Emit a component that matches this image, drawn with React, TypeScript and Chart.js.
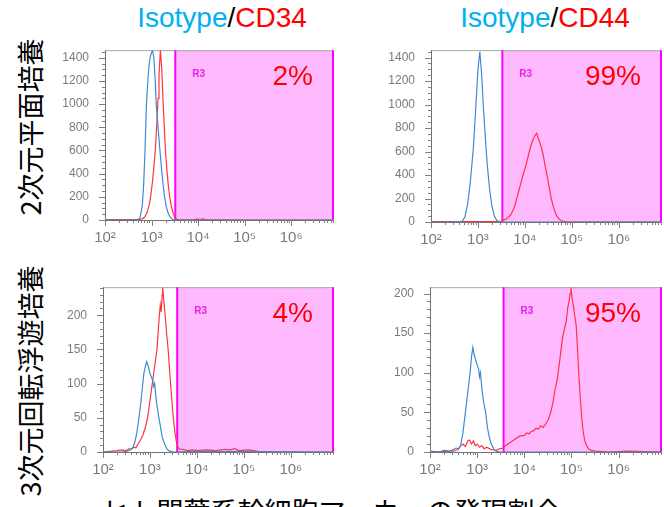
import React, { useEffect, useRef } from 'react';
import { Chart, registerables } from 'chart.js';
Chart.register(...registerables);

// ---------- text ----------
const columnTitles = [
  ['Isotype', '/', 'CD34'],
  ['Isotype', '/', 'CD44'],
];
const rowLabels = ['2次元平面培養', '3次元回転浮遊培養'];
const caption = 'ヒト間葉系幹細胞マーカーの発現割合';
const xTickLabels = ['10²', '10³', '10⁴', '10⁵', '10⁶']; // exponents 2..6
const gateLabel = 'R3';
const gatePercents = ['2%', '99%', '4%', '95%'];

// ---------- axes ----------
const xMinLog = 2;
const xMaxLog = 6.92;
const gateStartLog = [3.51, 3.52, 3.58, 3.56];
const yMaxes = [1465, 1463, 241, 208];
const yMajorSteps = [200, 200, 50, 50];
const yMinorSteps = [50, 50, 10, 10];

// ---------- histogram data (x in log10 fluorescence, y = count) ----------
// Panel A: 2D culture, Isotype vs CD34
const aIsoLog = [2.0, 2.5, 2.68, 2.72, 2.75, 2.8, 2.83, 2.86, 2.89, 2.92, 2.95, 2.98, 3.02, 3.05, 3.08, 3.1, 3.14, 3.18, 3.22, 3.25, 3.28, 3.32, 3.36, 3.4, 3.45, 3.5, 4.0, 6.92];
const aIsoCnt = [0, 0, 2, 5, 15, 120, 300, 600, 1000, 1200, 1350, 1420, 1465, 1400, 1200, 1000, 800, 600, 420, 300, 200, 110, 55, 25, 6, 0, 0, 0];
const aPosLog = [2.0, 2.5, 2.7, 2.8, 2.85, 2.9, 2.95, 2.98, 3.02, 3.05, 3.08, 3.11, 3.14, 3.16, 3.19, 3.22, 3.25, 3.28, 3.3, 3.33, 3.36, 3.39, 3.43, 3.47, 3.5, 3.53, 3.58, 3.7, 3.9, 4.0, 4.05, 4.1, 4.15, 4.3, 4.6, 5.0, 6.92];
const aPosCnt = [3, 3, 5, 10, 25, 60, 130, 200, 330, 460, 600, 800, 1050, 1250, 1465, 1300, 1000, 750, 600, 430, 300, 200, 110, 50, 25, 8, 3, 2, 3, 8, 4, 10, 3, 2, 1, 0, 0];

// Panel B: 2D culture, Isotype vs CD44
const bIsoLog = [2.0, 2.6, 2.66, 2.72, 2.78, 2.84, 2.9, 2.95, 3.0, 3.04, 3.08, 3.12, 3.16, 3.2, 3.25, 3.3, 3.35, 3.4, 3.45, 3.5, 4.0, 6.92];
const bIsoCnt = [0, 0, 5, 40, 150, 350, 620, 950, 1300, 1450, 1250, 950, 700, 480, 270, 130, 50, 15, 3, 0, 0, 0];
const bPosLog = [2.0, 3.4, 3.5, 3.6, 3.7, 3.78, 3.84, 3.9, 3.96, 4.02, 4.07, 4.12, 4.17, 4.22, 4.25, 4.28, 4.33, 4.38, 4.43, 4.47, 4.52, 4.56, 4.62, 4.68, 4.74, 4.8, 4.9, 5.0, 6.92];
const bPosCnt = [3, 3, 8, 25, 60, 130, 220, 310, 400, 480, 560, 640, 700, 740, 755, 720, 660, 590, 480, 400, 290, 200, 110, 50, 20, 5, 1, 0, 0];

// Panel C: 3D rotating suspension culture, Isotype vs CD34
const cIsoLog = [2.0, 2.4, 2.5, 2.58, 2.64, 2.68, 2.72, 2.75, 2.78, 2.81, 2.84, 2.87, 2.9, 2.93, 2.95, 2.97, 3.0, 3.03, 3.06, 3.08, 3.1, 3.12, 3.15, 3.19, 3.23, 3.26, 3.3, 3.33, 3.36, 3.4, 3.45, 3.5, 4.0, 6.92];
const cIsoCnt = [0, 0, 1, 3, 6, 15, 28, 42, 58, 75, 95, 115, 125, 132, 128, 124, 115, 110, 104, 96, 100, 85, 68, 50, 35, 22, 14, 9, 5, 2, 1, 0, 1, 0];
const cPosLog = [2.0, 2.3, 2.4, 2.5, 2.55, 2.6, 2.65, 2.7, 2.75, 2.8, 2.85, 2.9, 2.95, 3.0, 3.05, 3.1, 3.15, 3.2, 3.22, 3.24, 3.26, 3.27, 3.29, 3.31, 3.33, 3.36, 3.39, 3.42, 3.45, 3.48, 3.5, 3.53, 3.56, 3.59, 3.63, 3.7, 3.8, 3.9, 4.0, 4.2, 4.4, 4.6, 4.7, 4.8, 4.9, 5.1, 5.3, 5.5, 6.92];
const cPosCnt = [0, 2, 3, 2, 5, 4, 7, 6, 12, 18, 25, 35, 50, 75, 100, 125, 150, 200, 215, 205, 230, 241, 225, 210, 195, 170, 148, 118, 90, 65, 48, 30, 16, 8, 4, 4, 2, 3, 2, 3, 2, 4, 3, 5, 2, 3, 1, 0, 0];

// Panel D: 3D rotating suspension culture, Isotype vs CD44
const dIsoLog = [2.0, 2.5, 2.6, 2.65, 2.7, 2.75, 2.8, 2.85, 2.88, 2.91, 2.93, 2.96, 3.0, 3.03, 3.05, 3.07, 3.1, 3.14, 3.18, 3.22, 3.26, 3.3, 3.35, 3.4, 3.5, 5.0, 6.92];
const dIsoCnt = [0, 1, 3, 8, 25, 50, 75, 100, 120, 132, 125, 118, 110, 105, 95, 100, 80, 62, 50, 30, 18, 10, 4, 1, 0, 0, 0];
const dPosLog = [2.0, 2.2, 2.3, 2.4, 2.5, 2.55, 2.6, 2.65, 2.7, 2.75, 2.8, 2.84, 2.88, 2.92, 2.96, 3.0, 3.05, 3.1, 3.15, 3.2, 3.3, 3.4, 3.47, 3.55, 3.6, 3.7, 3.8, 3.9, 4.0, 4.05, 4.1, 4.15, 4.2, 4.25, 4.3, 4.35, 4.4, 4.45, 4.5, 4.55, 4.6, 4.65, 4.7, 4.75, 4.8, 4.83, 4.86, 4.89, 4.92, 4.95, 4.97, 4.99, 5.01, 5.04, 5.07, 5.1, 5.13, 5.16, 5.19, 5.22, 5.25, 5.28, 5.32, 5.36, 5.42, 5.5, 5.8, 6.2, 6.92];
const dPosCnt = [1, 0, 2, 1, 3, 5, 4, 8, 10, 7, 14, 15, 10, 14, 8, 10, 6, 8, 4, 6, 3, 2, 4, 5, 8, 12, 16, 20, 21, 24, 23, 26, 27, 30, 29, 33, 31, 35, 40, 48, 60, 78, 92, 115, 140, 150, 158, 165, 182, 190, 200, 208, 195, 185, 172, 160, 128, 95, 65, 42, 25, 15, 8, 4, 2, 1, 0, 1, 0];

// ---------- styles / layout ----------
const BLUE = '#3b8bd4';
const RED = '#ff3344';
const GATE_FILL = '#ffb9ff';
const MAGENTA = '#ff00ff';
const R3_COLOR = '#e621e6';
const FRAME = '#a8a8a8';
const AXIS = '#707070';
const TICK = '#808080';
const TICK_TEXT = '#7a7a7a';
const SANS = '"Liberation Sans", Arial, sans-serif';
const CJK = '"Noto Sans CJK JP", sans-serif';

const Y_AXIS_W = 50;
const X_AXIS_H = 30;
const PAD_TOP = 10;
const PAD_RIGHT = 2;

// plot-area rectangles in page pixels: [left, top, right, bottom]
const plotRects = [
  [105, 43, 335, 220],
  [431, 43, 663, 222],
  [103, 280, 335, 452],
  [430, 280, 663, 452],
];
const titleCenters = [[222, 4], [545, 4]];
const rowLabelCenters = [[29, 127], [29, 381]];

const panelData = [
  [aIsoLog, aIsoCnt, aPosLog, aPosCnt],
  [bIsoLog, bIsoCnt, bPosLog, bPosCnt],
  [cIsoLog, cIsoCnt, cPosLog, cPosCnt],
  [dIsoLog, dIsoCnt, dPosLog, dPosCnt],
];

function toPoints(logs: number[], counts: number[]) {
  return logs.map((l, i) => ({ x: Math.pow(10, l), y: counts[i] }));
}

function isDecade(v: number) {
  const e = Math.log10(v);
  return Math.abs(e - Math.round(e)) < 1e-6;
}
function isLogMinor(v: number) {
  const e = Math.floor(Math.log10(v) + 1e-9);
  const m = v / Math.pow(10, e);
  return Math.abs(m - Math.round(m)) < 1e-6;
}

function makeGatePlugin(i: number) {
  return {
    id: 'gate' + i,
    beforeDatasetsDraw(chart: any) {
      const { ctx, chartArea } = chart;
      const { left, right, top, bottom } = chartArea;
      const xs = chart.scales.x;
      const gx = xs.getPixelForValue(Math.pow(10, gateStartLog[i]));
      ctx.save();
      ctx.fillStyle = GATE_FILL;
      ctx.fillRect(gx, top, right - gx, bottom - top);
      // frame top
      ctx.strokeStyle = FRAME;
      ctx.lineWidth = 1;
      ctx.beginPath();
      ctx.moveTo(left, top + 0.5);
      ctx.lineTo(right, top + 0.5);
      ctx.stroke();
      // gate border
      ctx.strokeStyle = MAGENTA;
      ctx.lineWidth = 2;
      ctx.beginPath();
      ctx.moveTo(gx, top);
      ctx.lineTo(gx, bottom);
      ctx.moveTo(right - 1, top);
      ctx.lineTo(right - 1, bottom);
      ctx.stroke();
      // axis lines
      ctx.strokeStyle = AXIS;
      ctx.lineWidth = 1;
      ctx.beginPath();
      ctx.moveTo(left + 0.5, top);
      ctx.lineTo(left + 0.5, bottom);
      ctx.moveTo(left, bottom + 0.5);
      ctx.lineTo(right, bottom + 0.5);
      ctx.stroke();
      ctx.restore();
    },
    afterDatasetsDraw(chart: any) {
      const { ctx, chartArea } = chart;
      const { left, right, top, bottom } = chartArea;
      const xs = chart.scales.x;
      const ys = chart.scales.y;
      const gx = xs.getPixelForValue(Math.pow(10, gateStartLog[i]));
      ctx.save();
      // gate label
      ctx.fillStyle = R3_COLOR;
      ctx.font = 'bold 10px ' + SANS;
      ctx.textAlign = 'left';
      ctx.textBaseline = 'alphabetic';
      ctx.fillText(gateLabel, gx + 17, top + 27);
      // percentage
      ctx.fillStyle = '#ff0000';
      ctx.font = '28px ' + SANS;
      ctx.textAlign = 'right';
      ctx.fillText(gatePercents[i], right - 21, top + 35);
      // tick marks
      ctx.strokeStyle = TICK;
      ctx.lineWidth = 1;
      ctx.beginPath();
      ys.ticks.forEach((t: any) => {
        if (t.value % yMinorSteps[i] !== 0) return;
        const y = Math.round(ys.getPixelForValue(t.value)) + 0.5;
        const len = t.value % yMajorSteps[i] === 0 ? 6 : 3;
        ctx.moveTo(left - len, y);
        ctx.lineTo(left, y);
      });
      xs.ticks.forEach((t: any) => {
        if (!isLogMinor(t.value)) return;
        const x = Math.round(xs.getPixelForValue(t.value)) + 0.5;
        const len = isDecade(t.value) ? 6 : 3;
        ctx.moveTo(x, bottom);
        ctx.lineTo(x, bottom + len);
      });
      ctx.stroke();
      ctx.restore();
    },
  };
}

function Panel({ index }: { index: number }) {
  const ref = useRef<HTMLCanvasElement>(null);
  const [l, t, r, b] = plotRects[index];
  const width = Y_AXIS_W + (r - l) + PAD_RIGHT;
  const height = PAD_TOP + (b - t) + X_AXIS_H;
  useEffect(() => {
    if (!ref.current) return;
    const [isoLog, isoCnt, posLog, posCnt] = panelData[index];
    const chart = new Chart(ref.current, {
      type: 'line',
      data: {
        datasets: [
          { data: toPoints(isoLog, isoCnt), borderColor: BLUE, borderWidth: 1.2, pointRadius: 0, tension: 0, fill: false },
          { data: toPoints(posLog, posCnt), borderColor: RED, borderWidth: 1.2, pointRadius: 0, tension: 0, fill: false },
        ],
      } as any,
      options: {
        animation: false,
        responsive: false,
        events: [],
        layout: { padding: { top: PAD_TOP, right: PAD_RIGHT, left: 0, bottom: 0 } },
        plugins: { legend: { display: false }, tooltip: { enabled: false }, title: { display: false } },
        scales: {
          x: {
            type: 'logarithmic',
            min: Math.pow(10, xMinLog),
            max: Math.pow(10, xMaxLog),
            afterFit: (s: any) => { s.height = X_AXIS_H; },
            grid: { display: true, drawOnChartArea: false, drawTicks: true, tickLength: 6, color: 'rgba(0,0,0,0)', tickColor: 'rgba(0,0,0,0)' },
            border: { display: false },
            ticks: {
              autoSkip: false,
              maxRotation: 0,
              minRotation: 0,
              padding: 3,
              color: TICK_TEXT,
              font: { family: SANS, size: 15 },
              callback: (v: any) => {
                const val = Number(v);
                if (!isDecade(val)) return '';
                const e = Math.round(Math.log10(val));
                return xTickLabels[e - 2] ?? '';
              },
            },
          },
          y: {
            type: 'linear',
            min: 0,
            max: yMaxes[index],
            afterFit: (s: any) => { s.width = Y_AXIS_W; },
            grid: { display: true, drawOnChartArea: false, drawTicks: true, tickLength: 6, color: 'rgba(0,0,0,0)', tickColor: 'rgba(0,0,0,0)' },
            border: { display: false },
            ticks: {
              stepSize: yMinorSteps[index],
              includeBounds: false,
              autoSkip: false,
              padding: 10,
              color: TICK_TEXT,
              font: { family: SANS, size: 12 },
              callback: (v: any) => (Number(v) % yMajorSteps[index] === 0 ? String(v) : ''),
            },
          },
        },
      } as any,
      plugins: [makeGatePlugin(index)],
    });
    return () => chart.destroy();
  }, [index]);
  return (
    <canvas
      ref={ref}
      width={width}
      height={height}
      style={{ position: 'absolute', left: l - Y_AXIS_W, top: t - PAD_TOP, width, height }}
    />
  );
}

export default function App() {
  return (
    <div style={{ position: 'fixed', left: 0, top: 0, width: 664, height: 507, overflow: 'hidden', background: '#ffffff' }}>
      {columnTitles.map((parts, i) => (
        <div
          key={'t' + i}
          style={{
            position: 'absolute',
            left: titleCenters[i][0],
            top: titleCenters[i][1],
            transform: 'translateX(-50%)',
            font: '28px ' + SANS,
            lineHeight: '28px',
            whiteSpace: 'nowrap',
          }}
        >
          <span style={{ color: '#00b0f0' }}>{parts[0]}</span>
          <span style={{ color: '#000000' }}>{parts[1]}</span>
          <span style={{ color: '#ff0000' }}>{parts[2]}</span>
        </div>
      ))}
      {rowLabels.map((txt, i) => (
        <div
          key={'r' + i}
          style={{
            position: 'absolute',
            left: rowLabelCenters[i][0],
            top: rowLabelCenters[i][1],
            transform: 'translate(-50%, -50%) rotate(-90deg)',
            font: '27px ' + CJK,
            lineHeight: '27px',
            whiteSpace: 'nowrap',
            color: '#000',
          }}
        >
          {txt}
        </div>
      ))}
      {plotRects.map((_, i) => (
        <Panel key={'p' + i} index={i} />
      ))}
      <div
        style={{
          position: 'absolute',
          left: 0,
          width: 664,
          top: 497,
          textAlign: 'center',
          font: '27px ' + CJK,
          lineHeight: '27px',
          whiteSpace: 'nowrap',
          color: '#000',
        }}
      >
        {caption}
      </div>
    </div>
  );
}
